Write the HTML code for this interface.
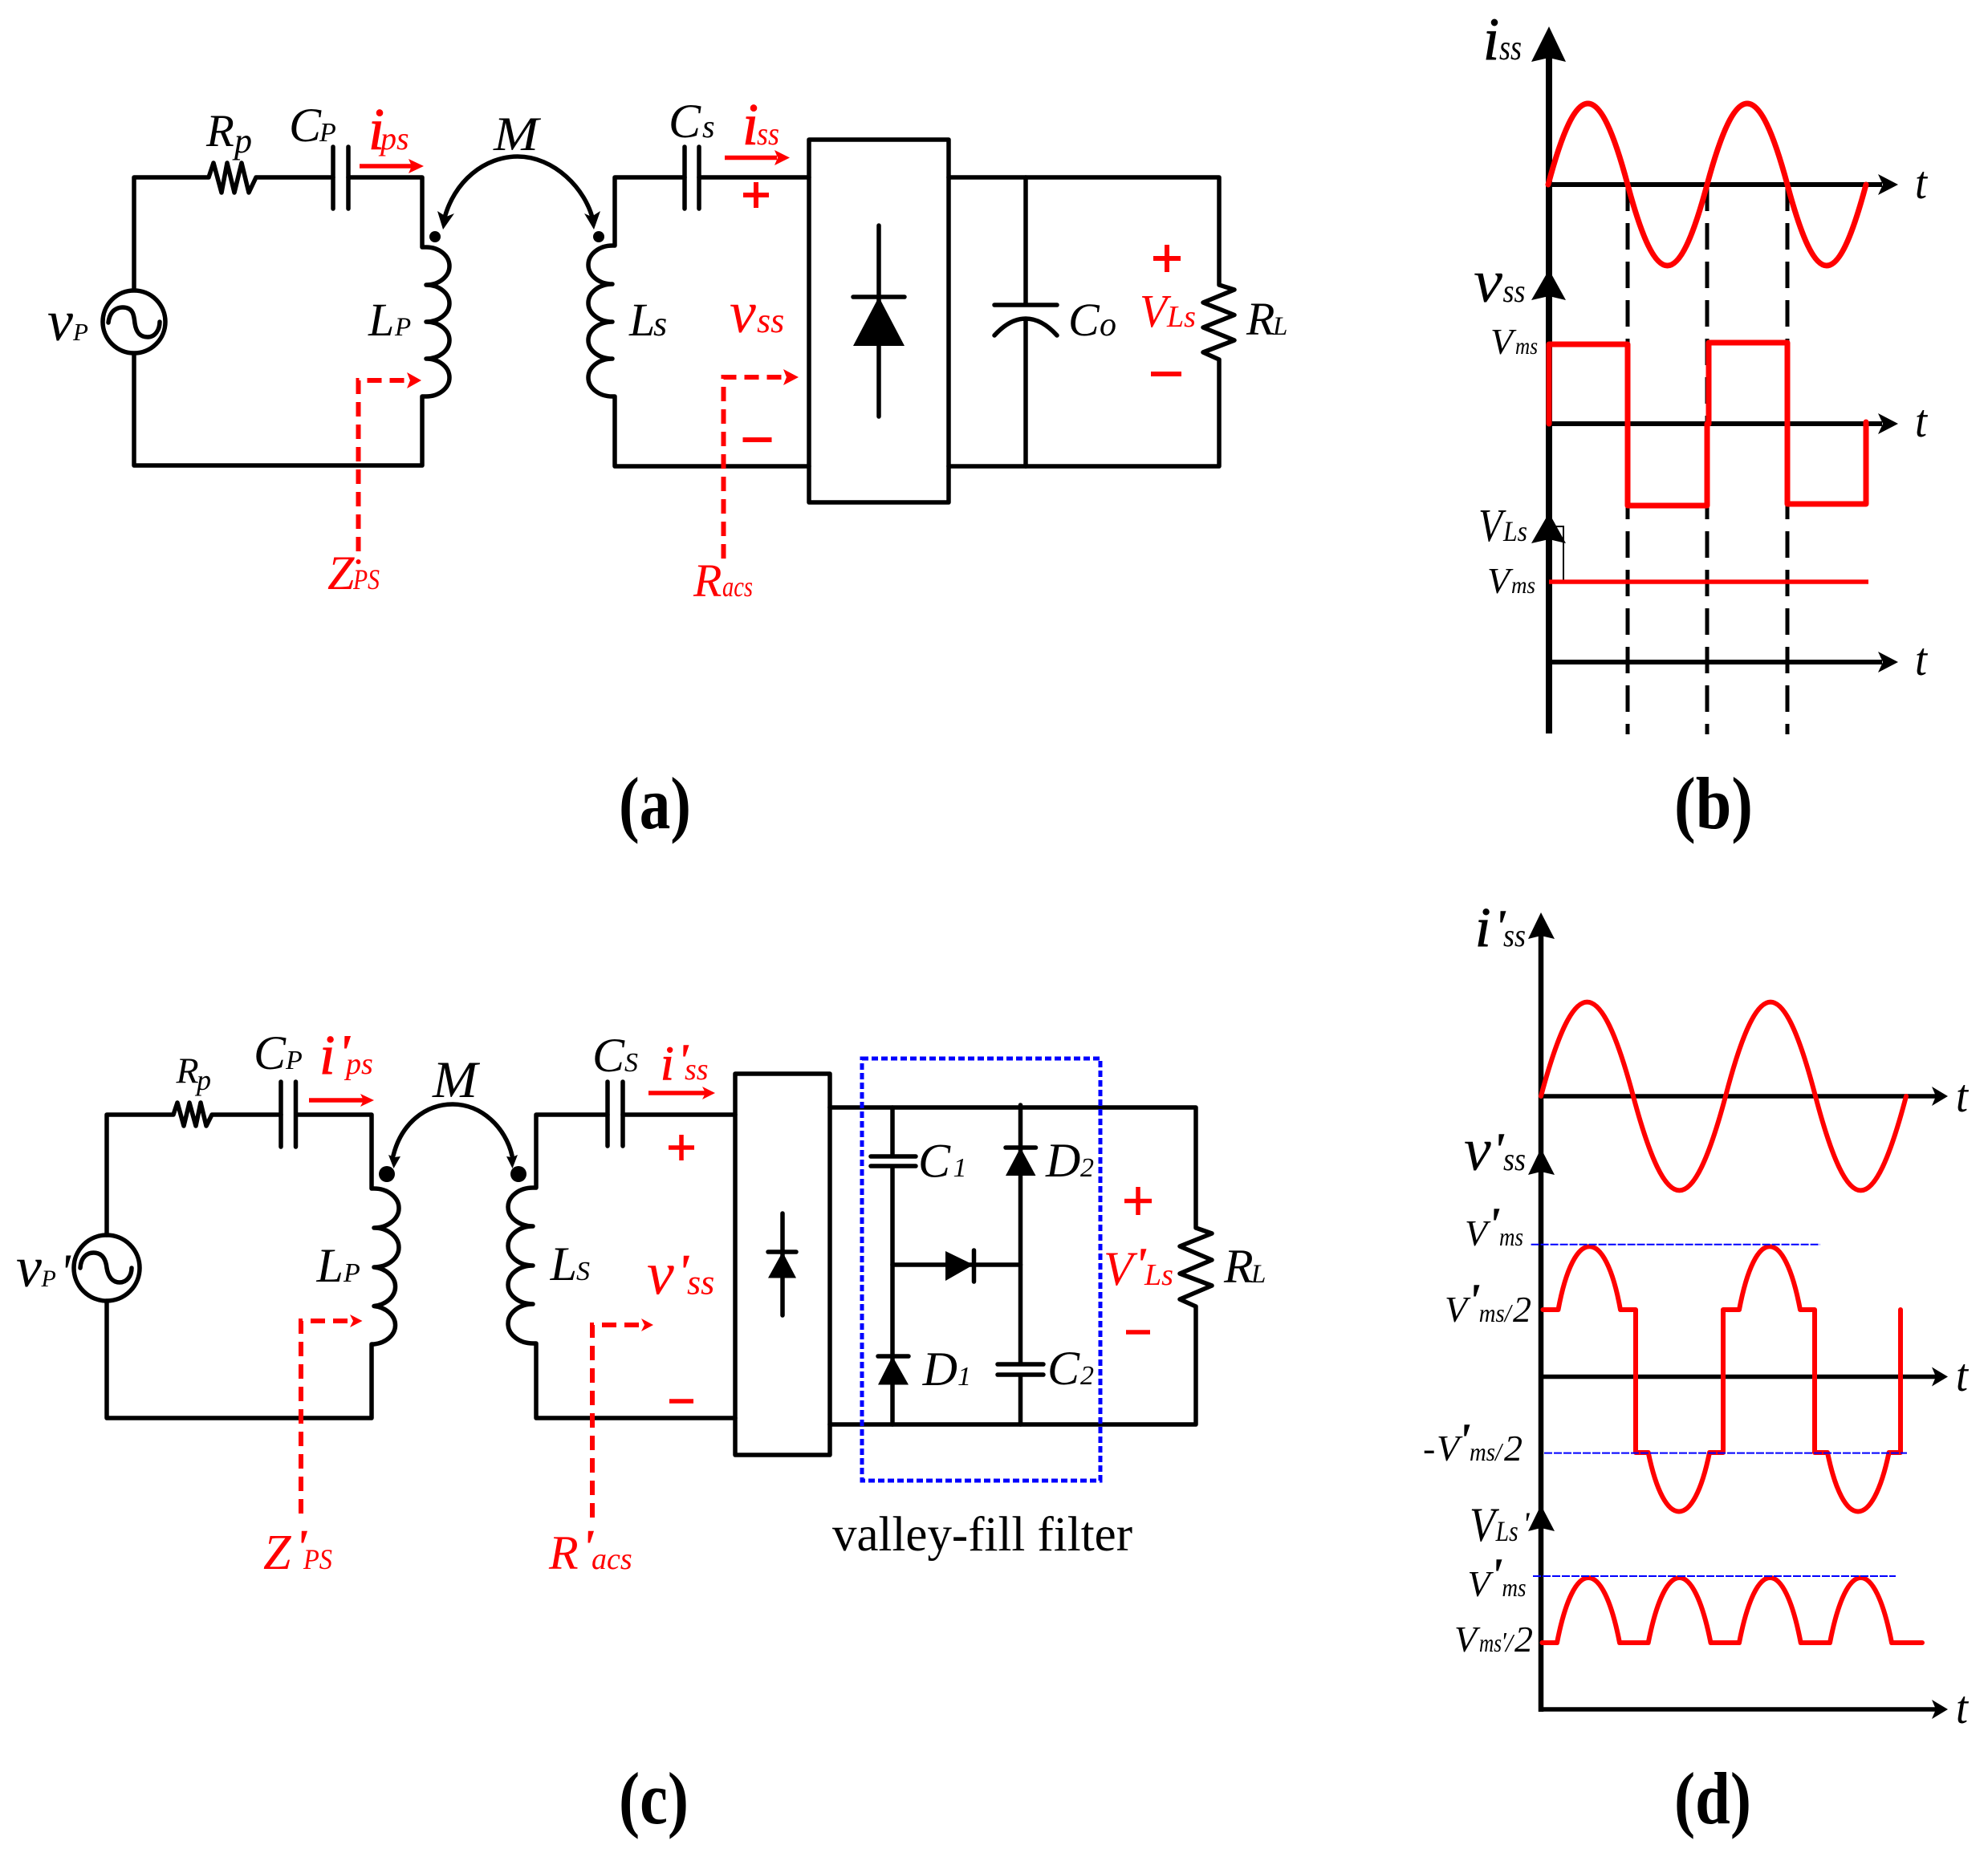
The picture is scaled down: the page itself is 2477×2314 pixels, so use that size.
<!DOCTYPE html>
<html><head><meta charset="utf-8"><style>
html,body{margin:0;padding:0;background:#fff}
svg{display:block}
text{font-family:"Liberation Serif",serif;font-style:italic;fill:#000}
.r{fill:#f00}
.k{fill:none;stroke:#000;stroke-width:5.5;stroke-linecap:round;stroke-linejoin:round}
.red{fill:none;stroke:#f00;stroke-width:6;stroke-linecap:round;stroke-linejoin:round}
.dash{fill:none;stroke:#f00;stroke-width:6;stroke-dasharray:18 10}
.bd{fill:none;stroke:#00f;stroke-width:2;stroke-dasharray:10 2}
.lab{font-style:normal;font-weight:bold}
.reg{font-style:normal}
.hv{stroke:#000;stroke-width:1}
.r.hv{stroke:#f00}
</style></head><body>
<svg width="2477" height="2314" viewBox="0 0 2477 2314" xmlns="http://www.w3.org/2000/svg">
<rect width="2477" height="2314" fill="#fff"/>

<!-- PANEL A -->
<g class="k">
<path d="M167 361V221H260L266 203L276 240L283 203L292 240L301 203L310 240L319 221H415M434 221H526V308H531A29 23.5 0 0 1 531 355A29 23 0 0 1 531 401A29 23 0 0 1 531 447A29 23.5 0 0 1 531 494H526V580H167V441"/>
<path d="M415 183V260M434 183V260M853 183V260M871 183V260"/>
<circle cx="167" cy="401" r="39"/>
<path d="M135 402C137 385 148 383 153 383C166 383 167 393 168 403C170 416 176 420 184 420C194 420 199 410 199 401"/>
<path d="M766 221H853M871 221H1008M766 221V306H763A30 24 0 0 0 763 354A30 23.5 0 0 0 763 401A30 23 0 0 0 763 447A30 23.5 0 0 0 763 494H766V581H1008"/>
<rect x="1008" y="174" width="174" height="452"/>
<path d="M1182 221H1519V355L1538 361L1499 377L1538 392.5L1499 408L1538 424L1499 439L1519 448V581H1182"/>
<path d="M1278 221V380M1239 380H1317M1278 397V581M1239 418Q1258 397 1278 397Q1298 397 1317 418"/>
<path d="M1095 281V519M1063 370H1127"/>
<path d="M553 275C565 225 605 195 645 195C690 195 730 235 739 275"/>
</g>
<polygon points="1095,370 1127,431 1063,431"/>
<polygon points="552,286 545,263 556,270 566,266"/>
<polygon points="740,286 728,266 737,270 748,263"/>
<circle cx="542" cy="295" r="7"/><circle cx="746" cy="295" r="7"/>
<!-- red a -->
<path d="M448 207H514M903 196.500H968" stroke="#f00" stroke-width="5.500" fill="none"/>
<polygon class="r" points="528,207 509,198 513,207 509,216"/>
<polygon class="r" points="984,196.500 965,187 969,196.500 965,206"/>
<path class="dash" d="M446.500 687V474H510"/>
<polygon class="r" points="525,474 507,464 511,474 507,484"/>
<circle cx="446.500" cy="700" r="3" fill="#f00"/>
<path class="dash" d="M901.500 696V470H980"/>
<polygon class="r" points="995,470 976,460 980,470 976,480"/>
<path d="M926 243H958M942 227V259M925.500 548H961.500M1437 322H1471M1454 305V339M1434 466H1472" stroke="#f00" stroke-width="6" fill="none"/>
<!-- text a -->
<text x="257" y="182" font-size="57">R</text><text x="292" y="190" font-size="44">p</text>
<text x="360" y="176" font-size="60">C</text><text x="398" y="176" font-size="34">P</text>
<text class="r hv" x="459" y="186" font-size="74" textLength="20" lengthAdjust="spacingAndGlyphs">i</text><text class="r" x="474" y="186" font-size="40">ps</text>
<text x="615" y="187" font-size="60" textLength="56" lengthAdjust="spacingAndGlyphs">M</text>
<text x="59" y="424" font-size="72">v</text><text x="91" y="424" font-size="31">P</text>
<text x="459" y="418" font-size="58">L</text><text x="492" y="418" font-size="33">P</text>
<text class="r" x="408" y="734" font-size="60">Z</text><text class="r" x="440" y="734" font-size="36" textLength="33" lengthAdjust="spacingAndGlyphs">PS</text>
<text x="784" y="418" font-size="58">L</text><text x="814" y="418" font-size="44">s</text>
<text x="833" y="171" font-size="60">C</text><text x="875" y="171" font-size="40">s</text>
<text class="r hv" x="925" y="180" font-size="74" textLength="20" lengthAdjust="spacingAndGlyphs">i</text><text class="r" x="943" y="180" font-size="40" textLength="28" lengthAdjust="spacingAndGlyphs">ss</text>
<text class="r" x="909" y="414" font-size="74">v</text><text class="r" x="943" y="414" font-size="44">ss</text>
<text x="1331" y="418" font-size="58">C</text><text x="1370" y="418" font-size="42">o</text>
<text class="r" x="1420" y="407" font-size="58" textLength="34" lengthAdjust="spacingAndGlyphs">V</text><text class="r" x="1454" y="407" font-size="38">Ls</text>
<text x="1553" y="417" font-size="58">R</text><text x="1586" y="417" font-size="33">L</text>
<text class="r" x="864" y="743" font-size="58">R</text><text class="r" x="900" y="743" font-size="36" textLength="38" lengthAdjust="spacingAndGlyphs">acs</text>
<text class="lab" x="771" y="1032" font-size="92" textLength="90" lengthAdjust="spacingAndGlyphs">(a)</text>
<text class="lab" x="2086" y="1032" font-size="92" textLength="98" lengthAdjust="spacingAndGlyphs">(b)</text>

<!-- PANEL B -->
<path d="M1930 60V914" stroke="#000" stroke-width="8" fill="none"/>
<polygon points="1930,33 1951,77 1930,72 1908,77"/>
<polygon points="1930,336 1951,374 1930,369 1908,374"/>
<polygon points="1930,639 1951,677 1930,672 1908,677"/>
<path d="M1930 230H2345M1930 528H2345M1930 825H2345" stroke="#000" stroke-width="6" fill="none"/>
<polygon points="2365,230 2340,217 2346,230 2340,243"/>
<polygon points="2365,528 2340,515 2346,528 2340,541"/>
<polygon points="2365,825 2340,812 2346,825 2340,838"/>
<path d="M2028 230V915M2127 230V915M2227 230V915" stroke="#000" stroke-width="5" stroke-dasharray="33 15" fill="none"/>
<rect x="1932" y="656" width="16" height="69" fill="none" stroke="#000" stroke-width="2"/>
<path class="red" style="stroke-width:7" d="M1929 230C1965 95.300 1992 95.300 2028 230C2064 364.700 2091 364.700 2127 230C2163.400 95.300 2190.600 95.300 2227 230C2263 364.700 2289 364.700 2325 230"/>
<path class="red" style="stroke-width:7" d="M1930 528V429H2028V630H2127V528M2129 528V427H2227V628H2325V526"/>
<path d="M1930 725H2328" stroke="#f00" stroke-width="5.500" fill="none"/>
<text class="hv" x="1848" y="74" font-size="75" textLength="20" lengthAdjust="spacingAndGlyphs">i</text><text x="1868" y="74" font-size="44" textLength="28" lengthAdjust="spacingAndGlyphs">ss</text>
<text x="1836" y="376" font-size="76" textLength="36" lengthAdjust="spacingAndGlyphs">v</text><text x="1872.500" y="376" font-size="40" textLength="28" lengthAdjust="spacingAndGlyphs">ss</text>
<text x="1857" y="441" font-size="46">V</text><text x="1888" y="441" font-size="30" textLength="28" lengthAdjust="spacingAndGlyphs">ms</text>
<text x="1842" y="674" font-size="58" textLength="30" lengthAdjust="spacingAndGlyphs">V</text><text x="1873" y="674" font-size="36" textLength="30" lengthAdjust="spacingAndGlyphs">Ls</text>
<text x="1853" y="739" font-size="46">V</text><text x="1883" y="739" font-size="30" textLength="30" lengthAdjust="spacingAndGlyphs">ms</text>
<text x="2386" y="247" font-size="58" textLength="15" lengthAdjust="spacingAndGlyphs">t</text>
<text x="2386" y="544" font-size="58" textLength="15" lengthAdjust="spacingAndGlyphs">t</text>
<text x="2386" y="841" font-size="58" textLength="15" lengthAdjust="spacingAndGlyphs">t</text>

<!-- PANEL C -->
<g class="k">
<path d="M133 1539V1389H216L221 1374L229 1403L236 1374L244 1403L250 1374L257 1403L264 1389H350M369 1389H463V1481H466A31 24.500 0 0 1 466 1530A31 24.500 0 0 1 466 1579A31 24.500 0 0 1 466 1627.500A31 24 0 0 1 466 1675H463V1767H133V1621"/>
<path d="M350 1348V1429M368.500 1348V1429M757 1348V1428M776 1348V1428"/>
<circle cx="133" cy="1580" r="41"/>
<path d="M100 1580C101 1565 110 1561 116.500 1561C128 1561 132 1570 133 1580C135 1592 141 1598 149 1598C158 1598 164 1590 164 1580"/>
<path d="M757 1389H668V1480H664A31 24 0 0 0 664 1528A31 24.500 0 0 0 664 1577A31 24 0 0 0 664 1625A31 24.500 0 0 0 664 1674H668V1767H916M776 1389H916"/>
<rect x="916" y="1338" width="118" height="475"/>
<path d="M1034 1380H1490V1530L1510 1537L1470 1553L1510 1570L1470 1587L1510 1602L1470 1619L1490 1628V1775H1034"/>
<path d="M1112 1380V1441M1085 1441H1141M1085 1453H1141M1112 1453V1775"/>
<path d="M1271.500 1377V1700M1243 1700H1300M1243 1713H1300M1271.500 1713V1775"/>
<path d="M1112 1576H1271.500M1213.500 1558V1597"/>
<path d="M1094 1690H1132M1253 1430H1290.500"/>
<path d="M975 1512V1639M957 1560H992"/>
<path d="M490 1440C500 1400 530 1376 564 1376C600 1376 630 1405 638 1440"/>
</g>
<polygon points="1112,1690 1132,1725.500 1094,1725.500"/>
<polygon points="1271.500,1430 1290.500,1465 1253,1465"/>
<polygon points="1213,1576 1178,1596 1178,1559"/>
<polygon points="975,1560 992,1592.500 957,1592.500"/>
<polygon points="490.500,1456 484,1439 491,1442 499,1441"/>
<polygon points="638.500,1456 631,1441 638,1442 645,1439"/>
<ellipse cx="482" cy="1463" rx="10" ry="10"/><ellipse cx="646" cy="1463" rx="10" ry="10"/>
<rect x="1074" y="1319" width="297" height="526" fill="none" stroke="#00f" stroke-width="5" stroke-dasharray="8 4"/>
<path d="M385 1371H455M808 1362H880" stroke="#f00" stroke-width="5.500" fill="none"/>
<polygon class="r" points="466,1371 449,1363 453,1371 449,1379"/>
<polygon class="r" points="891,1362 875,1354 879,1362 875,1370"/>
<path class="dash" d="M375 1886V1646H438"/>
<polygon class="r" points="451.500,1646 436,1638 440,1646 436,1654"/>
<path class="dash" d="M738 1891V1651H802"/>
<polygon class="r" points="814,1651 799,1643 803,1651 799,1659"/>
<path d="M833 1430H865M849 1414V1446M834 1746H864M1401 1496.500H1435M1418 1479V1514M1403 1660H1433" stroke="#f00" stroke-width="5.500" fill="none"/>
<text x="219.500" y="1349.500" font-size="46">R</text><text x="245" y="1358" font-size="36">p</text>
<text x="316" y="1332" font-size="60">C</text><text x="356" y="1332" font-size="34">P</text>
<text class="r hv" x="398" y="1338" font-size="70">i</text><text class="r" x="420" y="1334" font-size="66" font-weight="bold">'</text><text class="r" x="431" y="1338" font-size="38">ps</text>
<text x="539" y="1367" font-size="65" textLength="56" lengthAdjust="spacingAndGlyphs">M</text>
<text x="20" y="1603" font-size="72">v</text><text x="51.500" y="1603" font-size="30">P</text><text x="74" y="1606" font-size="64">'</text>
<text x="394.500" y="1597" font-size="60">L</text><text x="428" y="1597" font-size="34">P</text>
<text x="685.600" y="1595" font-size="60">L</text><text x="718" y="1595" font-size="34">S</text>
<text x="738" y="1335" font-size="60">C</text><text x="778" y="1335" font-size="34">S</text>
<text class="r" x="328" y="1955" font-size="62">Z</text><text class="r" x="367" y="1949" font-size="62" font-weight="bold">'</text><text class="r" x="378" y="1955" font-size="36" textLength="36" lengthAdjust="spacingAndGlyphs">PS</text>
<text class="r" x="684" y="1955" font-size="60">R</text><text class="r" x="724" y="1949" font-size="62" font-weight="bold">'</text><text class="r" x="737" y="1955" font-size="38">acs</text>
<text class="r hv" x="823" y="1345" font-size="60">i</text><text class="r" x="843" y="1342" font-size="60" font-weight="bold">'</text><text class="r" x="853" y="1345" font-size="38">ss</text>
<text class="r" x="806" y="1612.600" font-size="76">v</text><text class="r" x="843" y="1606" font-size="62" font-weight="bold">'</text><text class="r" x="856" y="1612.600" font-size="44">ss</text>
<text x="1144" y="1466.600" font-size="60">C</text><text x="1187.500" y="1466" font-size="34">1</text>
<text x="1303" y="1466" font-size="60">D</text><text x="1346" y="1466" font-size="34">2</text>
<text x="1149.600" y="1726" font-size="60">D</text><text x="1193" y="1726" font-size="34">1</text>
<text x="1305" y="1725" font-size="60">C</text><text x="1346" y="1725" font-size="34">2</text>
<text class="r" x="1375" y="1601" font-size="60">V</text><text class="r" x="1413" y="1596" font-size="60" font-weight="bold">'</text><text class="r" x="1426" y="1601" font-size="38">Ls</text>
<text x="1525" y="1598" font-size="60">R</text><text x="1559" y="1598" font-size="33">L</text>
<text class="reg" x="1037" y="1932" font-size="61" textLength="374" lengthAdjust="spacingAndGlyphs">valley-fill filter</text>
<text class="lab" x="771" y="2272" font-size="92" textLength="87" lengthAdjust="spacingAndGlyphs">(c)</text>
<text class="lab" x="2086" y="2272" font-size="92" textLength="96" lengthAdjust="spacingAndGlyphs">(d)</text>

<!-- PANEL D -->
<path d="M1920 1160V2133" stroke="#000" stroke-width="6.500" fill="none"/>
<polygon points="1920,1137 1937,1170 1920,1166 1904,1170"/>
<polygon points="1920,1431 1937,1464 1920,1460 1904,1464"/>
<polygon points="1920,1875.500 1937,1908 1920,1904 1904,1908"/>
<path d="M1920 1366H2412M1920 1715.500H2412M1920 2130H2412" stroke="#000" stroke-width="5.500" fill="none"/>
<polygon points="2427,1366 2407,1354 2412,1366 2407,1378"/>
<polygon points="2427,1715.500 2407,1703.500 2412,1715.500 2407,1727.500"/>
<polygon points="2427,2130 2407,2118 2412,2130 2407,2142"/>
<path class="red" d="M1920 1366C1961.900 1209.500 1993.100 1209.500 2035 1366C2076.900 1522.500 2108.100 1522.500 2150 1366C2190.800 1209.500 2221.200 1209.500 2262 1366C2303.200 1522.500 2333.800 1522.500 2375 1366"/>
<path class="red" d="M1922.500 1632H1941.500C1961 1527 2000 1527 2019 1632H2038V1810H2053.700C2074 1908 2110 1908 2130 1810H2147V1632H2167C2187 1527 2223 1527 2243 1632H2261V1810H2277C2297 1908 2333 1908 2353.600 1810H2368V1632"/>
<path class="red" d="M1921.500 2047H1940C1961 1939 1997 1939 2018 2047H2053.700C2075 1939 2110 1939 2131.500 2047H2167C2188 1939 2223 1939 2243.700 2047H2280C2301 1939 2336 1939 2357 2047H2395"/>
<path class="bd" d="M1907.600 1550.700H2268M1924 1810.600H2376M1910 1964H2362"/>
<text class="hv" x="1838" y="1179" font-size="70">i</text><text x="1861" y="1175" font-size="60" font-weight="bold">'</text><text x="1873" y="1179" font-size="40" textLength="28" lengthAdjust="spacingAndGlyphs">ss</text>
<text x="1824" y="1458" font-size="76">v</text><text x="1859" y="1453" font-size="60" font-weight="bold">'</text><text x="1873" y="1458" font-size="40" textLength="28" lengthAdjust="spacingAndGlyphs">ss</text>
<text x="1825" y="1552" font-size="46">V</text><text x="1853" y="1546" font-size="60" font-weight="bold">'</text><text x="1868" y="1552" font-size="32" textLength="30" lengthAdjust="spacingAndGlyphs">ms</text>
<text x="1800" y="1647" font-size="46">V</text><text x="1828" y="1641" font-size="60" font-weight="bold">'</text><text x="1842.700" y="1647" font-size="32" textLength="40" lengthAdjust="spacingAndGlyphs">ms/</text><text x="1885" y="1647" font-size="46">2</text>
<text x="1773" y="1820" font-size="46">-</text><text x="1790" y="1820" font-size="46">V</text><text x="1816" y="1815" font-size="60" font-weight="bold">'</text><text x="1831" y="1820" font-size="32" textLength="40" lengthAdjust="spacingAndGlyphs">ms/</text><text x="1874" y="1820" font-size="46">2</text>
<text x="1831" y="1920" font-size="60" textLength="32" lengthAdjust="spacingAndGlyphs">V</text><text x="1863.600" y="1920" font-size="36" textLength="28" lengthAdjust="spacingAndGlyphs">Ls</text><text x="1897" y="1912" font-size="40">'</text>
<text x="1828.500" y="1989" font-size="46">V</text><text x="1856" y="1983" font-size="60" font-weight="bold">'</text><text x="1871.500" y="1989" font-size="32" textLength="30" lengthAdjust="spacingAndGlyphs">ms</text>
<text x="1812" y="2058" font-size="46">V</text><text x="1843" y="2058" font-size="32" textLength="28" lengthAdjust="spacingAndGlyphs">ms</text><text x="1870" y="2056" font-size="32">'</text><text x="1876" y="2058" font-size="32">/</text><text x="1887" y="2058" font-size="46">2</text>
<text x="2437" y="1385" font-size="58" textLength="15" lengthAdjust="spacingAndGlyphs">t</text>
<text x="2437" y="1733" font-size="58" textLength="15" lengthAdjust="spacingAndGlyphs">t</text>
<text x="2437" y="2147" font-size="58" textLength="15" lengthAdjust="spacingAndGlyphs">t</text>
</svg>
</body></html>
